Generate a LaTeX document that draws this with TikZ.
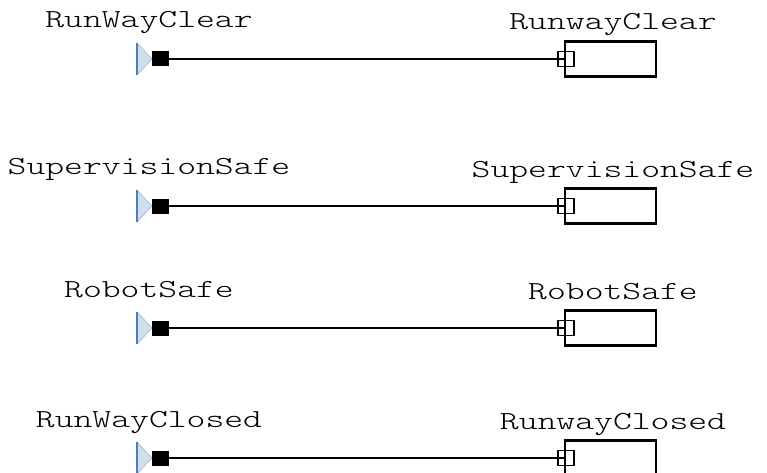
\documentclass[tikz,border=0pt]{standalone}
\usepackage{graphicx}
\usepackage{fontspec}
\newfontfamily\sigfont[Extension=.otf]{lmmonolt10-regular}
\definecolor{portedge}{HTML}{4F7DB5}
\definecolor{portfill}{HTML}{CFDFEE}
\begin{document}
\begin{tikzpicture}[x=1pt,y=-1pt,
    sig/.style={font=\sigfont\fontsize{26}{26}\selectfont, inner sep=0pt, anchor=base},
    outport/.style={fill=black, minimum width=17pt, minimum height=15pt, inner sep=0pt},
    inport/.style={draw, line width=1.8pt, minimum width=16pt, minimum height=15pt, inner sep=0pt},
    block/.style={draw, line width=2.2pt, minimum width=91pt, minimum height=35pt, inner sep=0pt}]
    \useasboundingbox (0,0) rectangle (767,473);
    \foreach \y/\src/\dst/\id in {59/RunWayClear/RunwayClear/a,
                                  206/SupervisionSafe/SupervisionSafe/b,
                                  328/RobotSafe/RobotSafe/c,
                                  458/RunWayClosed/RunwayClosed/d} {
        % sending port
        \draw[portedge!70, fill=portfill] (137,\y-16) -- (152,\y) -- (137,\y+16) -- cycle;
        \draw[portedge, line width=2pt] (137,\y-16) -- (137,\y+16);
        \node[outport] (out\id) at (160.5,\y) {};
        \node[sig] (lbl\id) at (149,\y-31) {\scalebox{1.38}[1]{\src}};
        % receiving block
        \node[block] (blk\id) at (610.5,\y) {};
        \node[sig] (name\id) at (613,\y-29) {\scalebox{1.38}[1]{\dst}};
        \draw[line width=1.4pt] (out\id.east) -- (blk\id.west);
        \node[inport] (in\id) at (566,\y) {};
    }
\end{tikzpicture}
\end{document}
